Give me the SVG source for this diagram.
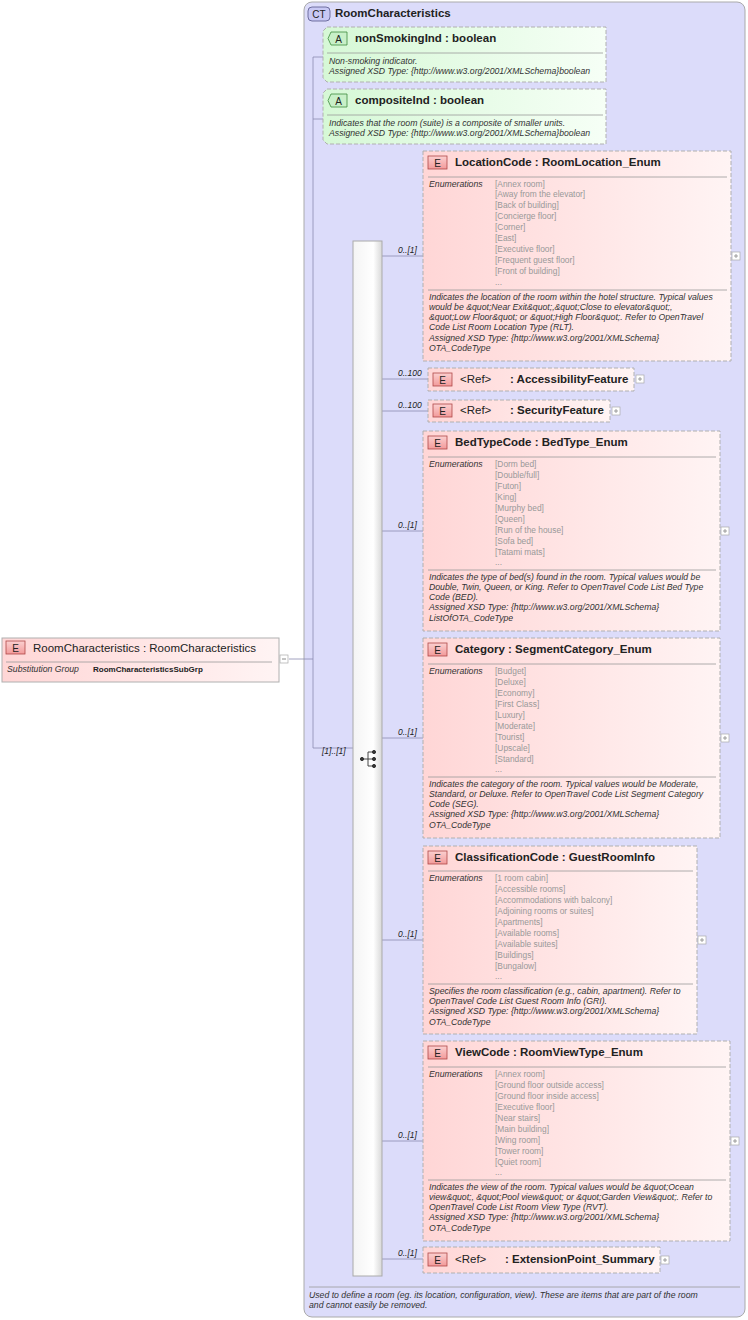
<svg xmlns="http://www.w3.org/2000/svg" width="748" height="1320" viewBox="0 0 748 1320">
<defs>
<linearGradient id="pk" x1="0" x2="1"><stop offset="0" stop-color="#ffd6d6"/><stop offset="1" stop-color="#fff4f4"/></linearGradient>
<linearGradient id="gr" x1="0" x2="1"><stop offset="0" stop-color="#d6f8d6"/><stop offset="1" stop-color="#f6fff6"/></linearGradient>
<linearGradient id="eb" x1="0" y1="0" x2="0" y2="1"><stop offset="0" stop-color="#fbd0d0"/><stop offset="1" stop-color="#f29a9a"/></linearGradient>
<linearGradient id="seq" x1="0" x2="1"><stop offset="0" stop-color="#f4f4f4"/><stop offset="0.7" stop-color="#ffffff"/><stop offset="1" stop-color="#d8d8d8"/></linearGradient>
<g id="E"><rect x="0" y="0" width="19" height="13" fill="url(#eb)" stroke="#b04848" stroke-width="0.8"/><text x="9.5" y="10.5" text-anchor="middle" class="b" style="font-weight:normal;font-size:10px">E</text></g>
<g id="A"><path d="M3,0 H19 V13 H3 L0,6.5 Z" fill="#c8f0c8" stroke="#3c8c3c" stroke-width="0.8"/><text x="10.5" y="10.5" text-anchor="middle" class="b" style="font-weight:normal;font-size:10px">A</text></g>
<g id="plus"><rect x="0" y="0" width="8" height="8" fill="#fff" stroke="#aaa" stroke-width="0.7"/><path d="M2,4H6M4,2V6" stroke="#888" stroke-width="0.8"/></g>
</defs>
<style>
text{font-family:"Liberation Sans",Arial,sans-serif;fill:#222}
.h{font-size:11.5px;font-weight:bold}
.b{font-size:11px}
.i{font-size:8.7px;font-style:italic;fill:#333}
.en{font-size:8.4px;fill:#999}
.el{fill:url(#pk);stroke:#b0b0b0;stroke-dasharray:4,2}
.at{fill:url(#gr);stroke:#b0b0b0;stroke-dasharray:4,2}
.sep{stroke:#999;stroke-width:0.8}
.c{stroke:#8a8ab0;stroke-width:0.8;fill:none}
.m{font-size:8.5px;font-style:italic}
</style>
<g id="ct">
<rect x="304" y="2" width="441" height="1315" rx="8" fill="#dcdcfa" stroke="#aaa"/>
<rect x="308" y="7" width="22" height="14" rx="4" fill="#c8c8f4" stroke="#55558a" stroke-width="0.8"/>
<text x="319" y="18" text-anchor="middle" class="b" style="font-size:10px">CT</text>
<text x="335" y="17" class="h">RoomCharacteristics</text>
<line x1="309" y1="1287" x2="740" y2="1287" class="sep"/>
<text x="309" y="1298" class="i">Used to define a room (eg. its location, configuration, view).  These are items that are part of the room</text>
<text x="309" y="1308" class="i">and cannot easily be removed.</text>
</g>
<g id="connectors">
<path class="c" d="M289,659H313M313,57V748M313,57H324M313,119H324M313,748H353"/>
<path class="c" d="M382,256H423M382,379H428M382,411H428M382,531H423M382,738H423M382,940H423M382,1141H423M382,1259H423"/>
<text x="398" y="253" class="m">0..[1]</text>
<text x="398" y="376" class="m">0..100</text>
<text x="398" y="408" class="m">0..100</text>
<text x="398" y="528" class="m">0..[1]</text>
<text x="398" y="735" class="m">0..[1]</text>
<text x="398" y="937" class="m">0..[1]</text>
<text x="398" y="1138" class="m">0..[1]</text>
<text x="398" y="1256" class="m">0..[1]</text>
<text x="322" y="754" class="m">[1]..[1]</text>
</g>
<g id="sequence">
<rect x="353" y="241" width="29" height="1035" fill="url(#seq)" stroke="#aaa"/>
<g stroke="#333" fill="#333"><circle cx="362" cy="759" r="1.6"/><path d="M362,759H368M368,752V766M368,752H373M368,759H373M368,766H373" fill="none" stroke-width="0.9"/><circle cx="374" cy="752" r="1.6"/><circle cx="374" cy="759" r="1.6"/><circle cx="374" cy="766" r="1.6"/></g>
</g>
<g id="root">
<rect x="2" y="638" width="277" height="44" fill="url(#pk)" stroke="#b0b0b0"/>
<use href="#E" x="6" y="641"/>
<text x="33" y="652" class="h" style="font-weight:normal;font-size:11.5px">RoomCharacteristics : RoomCharacteristics</text>
<line x1="6" y1="662" x2="272" y2="662" class="sep"/>
<text x="7" y="672" class="i">Substitution Group</text>
<text x="93" y="672" style="font-size:8px;font-weight:bold">RoomCharacteristicsSubGrp</text>
<rect x="280" y="655" width="8" height="8" fill="#fff" stroke="#aaa" stroke-width="0.7"/><path d="M282,659H286" stroke="#888"/>
</g>
<g id="nonSmokingInd">
<path class="at" d="M327,27H606V82H327L323,78V31Z"/>
<use href="#A" x="328" y="32"/>
<text x="355" y="42" class="h">nonSmokingInd  : boolean</text>
<line x1="327" y1="53" x2="603" y2="53" class="sep"/>
<text x="329" y="64" class="i">Non-smoking indicator.</text>
<text x="329" y="74" class="i">Assigned XSD Type: {http://www.w3.org/2001/XMLSchema}boolean</text>
</g>
<g id="compositeInd">
<path class="at" d="M327,89H606V144H327L323,140V93Z"/>
<use href="#A" x="328" y="94"/>
<text x="355" y="104" class="h">compositeInd  : boolean</text>
<line x1="327" y1="115" x2="603" y2="115" class="sep"/>
<text x="329" y="126" class="i">Indicates that the room (suite) is a composite of smaller units.</text>
<text x="329" y="136" class="i">Assigned XSD Type: {http://www.w3.org/2001/XMLSchema}boolean</text>
</g>
<g id="LocationCode">
<rect x="423" y="151" width="308" height="210" class="el"/>
<use href="#E" x="428" y="156"/>
<text x="455" y="166" class="h">LocationCode  : RoomLocation_Enum</text>
<line x1="428" y1="177" x2="727" y2="177" class="sep"/>
<text x="429" y="187" class="i">Enumerations</text>
<text x="495" y="187" class="en">[Annex room]</text><text x="495" y="197" class="en">[Away from the elevator]</text><text x="495" y="208" class="en">[Back of building]</text><text x="495" y="219" class="en">[Concierge floor]</text><text x="495" y="230" class="en">[Corner]</text><text x="495" y="241" class="en">[East]</text><text x="495" y="252" class="en">[Executive floor]</text><text x="495" y="263" class="en">[Frequent guest floor]</text><text x="495" y="274" class="en">[Front of building]</text><text x="495" y="285" class="en">...</text>
<line x1="428" y1="290" x2="727" y2="290" class="sep"/>
<text x="429" y="300" class="i">Indicates the location of the room within the hotel structure. Typical values</text>
<text x="429" y="310" class="i">would be &amp;quot;Near Exit&amp;quot;,&amp;quot;Close to elevator&amp;quot;,</text>
<text x="429" y="320" class="i">&amp;quot;Low Floor&amp;quot; or &amp;quot;High Floor&amp;quot;. Refer to OpenTravel</text>
<text x="429" y="330" class="i">Code List Room Location Type (RLT).</text>
<text x="429" y="341" class="i">Assigned XSD Type: {http://www.w3.org/2001/XMLSchema}</text>
<text x="429" y="351" class="i">OTA_CodeType</text>
<use href="#plus" x="732" y="252"/>
</g>
<g id="AccessibilityFeature">
<rect x="428" y="368" width="206" height="23" class="el"/>
<use href="#E" x="433" y="373"/>
<text x="460" y="383" class="h" style="font-weight:normal">&lt;Ref&gt;</text>
<text x="510" y="383" class="h">: AccessibilityFeature</text>
<use href="#plus" x="636" y="375"/>
</g>
<g id="SecurityFeature">
<rect x="428" y="400" width="182" height="22" class="el"/>
<use href="#E" x="433" y="404"/>
<text x="460" y="414" class="h" style="font-weight:normal">&lt;Ref&gt;</text>
<text x="510" y="414" class="h">: SecurityFeature</text>
<use href="#plus" x="612" y="407"/>
</g>
<g id="BedTypeCode">
<rect x="423" y="431" width="297" height="200" class="el"/>
<use href="#E" x="428" y="436"/>
<text x="455" y="446" class="h">BedTypeCode  : BedType_Enum</text>
<line x1="428" y1="457" x2="716" y2="457" class="sep"/>
<text x="429" y="467" class="i">Enumerations</text>
<text x="495" y="467" class="en">[Dorm bed]</text><text x="495" y="478" class="en">[Double/full]</text><text x="495" y="489" class="en">[Futon]</text><text x="495" y="500" class="en">[King]</text><text x="495" y="511" class="en">[Murphy bed]</text><text x="495" y="522" class="en">[Queen]</text><text x="495" y="533" class="en">[Run of the house]</text><text x="495" y="544" class="en">[Sofa bed]</text><text x="495" y="555" class="en">[Tatami mats]</text><text x="495" y="565" class="en">...</text>
<line x1="428" y1="570" x2="716" y2="570" class="sep"/>
<text x="429" y="580" class="i">Indicates the type of bed(s) found in the room. Typical values would be</text>
<text x="429" y="590" class="i">Double, Twin, Queen, or King. Refer to OpenTravel Code List Bed Type</text>
<text x="429" y="600" class="i">Code (BED).</text>
<text x="429" y="610" class="i">Assigned XSD Type: {http://www.w3.org/2001/XMLSchema}</text>
<text x="429" y="621" class="i">ListOfOTA_CodeType</text>
<use href="#plus" x="721" y="527"/>
</g>
<g id="Category">
<rect x="423" y="638" width="297" height="200" class="el"/>
<use href="#E" x="428" y="643"/>
<text x="455" y="653" class="h">Category  : SegmentCategory_Enum</text>
<line x1="428" y1="664" x2="716" y2="664" class="sep"/>
<text x="429" y="674" class="i">Enumerations</text>
<text x="495" y="674" class="en">[Budget]</text><text x="495" y="685" class="en">[Deluxe]</text><text x="495" y="696" class="en">[Economy]</text><text x="495" y="707" class="en">[First Class]</text><text x="495" y="718" class="en">[Luxury]</text><text x="495" y="729" class="en">[Moderate]</text><text x="495" y="740" class="en">[Tourist]</text><text x="495" y="751" class="en">[Upscale]</text><text x="495" y="762" class="en">[Standard]</text><text x="495" y="772" class="en">...</text>
<line x1="428" y1="777" x2="716" y2="777" class="sep"/>
<text x="429" y="787" class="i">Indicates the category of the room. Typical values would be Moderate,</text>
<text x="429" y="797" class="i">Standard, or Deluxe. Refer to OpenTravel Code List Segment Category</text>
<text x="429" y="807" class="i">Code (SEG).</text>
<text x="429" y="817" class="i">Assigned XSD Type: {http://www.w3.org/2001/XMLSchema}</text>
<text x="429" y="828" class="i">OTA_CodeType</text>
<use href="#plus" x="721" y="734"/>
</g>
<g id="ClassificationCode">
<rect x="423" y="846" width="274" height="188" class="el"/>
<use href="#E" x="428" y="851"/>
<text x="455" y="861" class="h">ClassificationCode  : GuestRoomInfo</text>
<line x1="428" y1="871" x2="693" y2="871" class="sep"/>
<text x="429" y="881" class="i">Enumerations</text>
<text x="495" y="881" class="en">[1 room cabin]</text><text x="495" y="892" class="en">[Accessible rooms]</text><text x="495" y="903" class="en">[Accommodations with balcony]</text><text x="495" y="914" class="en">[Adjoining rooms or suites]</text><text x="495" y="925" class="en">[Apartments]</text><text x="495" y="936" class="en">[Available rooms]</text><text x="495" y="947" class="en">[Available suites]</text><text x="495" y="958" class="en">[Buildings]</text><text x="495" y="969" class="en">[Bungalow]</text><text x="495" y="979" class="en">...</text>
<line x1="428" y1="984" x2="693" y2="984" class="sep"/>
<text x="429" y="994" class="i">Specifies the room classification (e.g., cabin, apartment). Refer to</text>
<text x="429" y="1004" class="i">OpenTravel Code List Guest Room Info (GRI).</text>
<text x="429" y="1014" class="i">Assigned XSD Type: {http://www.w3.org/2001/XMLSchema}</text>
<text x="429" y="1025" class="i">OTA_CodeType</text>
<use href="#plus" x="698" y="936"/>
</g>
<g id="ViewCode">
<rect x="423" y="1041" width="307" height="200" class="el"/>
<use href="#E" x="428" y="1046"/>
<text x="455" y="1056" class="h">ViewCode  : RoomViewType_Enum</text>
<line x1="428" y1="1067" x2="726" y2="1067" class="sep"/>
<text x="429" y="1077" class="i">Enumerations</text>
<text x="495" y="1077" class="en">[Annex room]</text><text x="495" y="1088" class="en">[Ground floor outside access]</text><text x="495" y="1099" class="en">[Ground floor inside access]</text><text x="495" y="1110" class="en">[Executive floor]</text><text x="495" y="1121" class="en">[Near stairs]</text><text x="495" y="1132" class="en">[Main building]</text><text x="495" y="1143" class="en">[Wing room]</text><text x="495" y="1154" class="en">[Tower room]</text><text x="495" y="1165" class="en">[Quiet room]</text><text x="495" y="1175" class="en">...</text>
<line x1="428" y1="1180" x2="726" y2="1180" class="sep"/>
<text x="429" y="1190" class="i">Indicates the view of the room. Typical values would be &amp;quot;Ocean</text>
<text x="429" y="1200" class="i">view&amp;quot;, &amp;quot;Pool view&amp;quot; or &amp;quot;Garden View&amp;quot;. Refer to</text>
<text x="429" y="1210" class="i">OpenTravel Code List Room View Type (RVT).</text>
<text x="429" y="1220" class="i">Assigned XSD Type: {http://www.w3.org/2001/XMLSchema}</text>
<text x="429" y="1231" class="i">OTA_CodeType</text>
<use href="#plus" x="731" y="1137"/>
</g>
<g id="ExtensionPoint">
<rect x="423" y="1247" width="237" height="26" class="el"/>
<use href="#E" x="428" y="1253"/>
<text x="455" y="1263" class="h" style="font-weight:normal">&lt;Ref&gt;</text>
<text x="505" y="1263" class="h">: ExtensionPoint_Summary</text>
<use href="#plus" x="661" y="1256"/>
</g>
</svg>
